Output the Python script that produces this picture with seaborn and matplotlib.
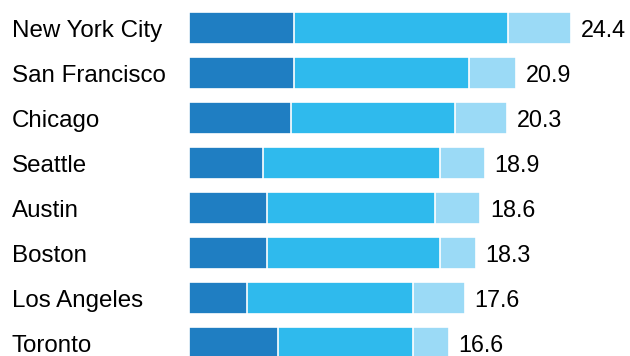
import pandas as pd
import matplotlib.pyplot as plt
import seaborn as sns

# --- データ ---
cities = ["New York City", "San Francisco", "Chicago", "Seattle",
          "Austin", "Boston", "Los Angeles", "Toronto"]
seg1 = [6.7, 6.7, 6.5, 4.7, 5.0, 5.0, 3.7, 5.7]
seg2 = [13.7, 11.2, 10.5, 11.3, 10.7, 11.0, 10.6, 8.6]
seg3 = [4.0, 3.0, 3.3, 2.9, 2.9, 2.3, 3.3, 2.3]
totals = [24.4, 20.9, 20.3, 18.9, 18.6, 18.3, 17.6, 16.6]

colors = ["#1f7ec2", "#2fbaed", "#9bdaf6"]

sns.set_style("white")
plt.rcParams['font.family'] = ['Liberation Sans', 'DejaVu Sans']

df = pd.DataFrame({"city": cities, "s1": seg1, "s2": seg2, "s3": seg3})
df["c1"] = df["s1"]
df["c2"] = df["s1"] + df["s2"]
df["c3"] = df["s1"] + df["s2"] + df["s3"]

fig = plt.figure(figsize=(6.3, 3.56), dpi=100)
ax = fig.add_axes([189 / 630, 0, 441 / 630, 1])

# 後ろから順に累積値を重ねて積み上げ棒にする
for col, c in zip(["c3", "c2", "c1"], colors[::-1]):
    sns.barplot(data=df, y="city", x=col, color=c, orient="h", width=0.69,
                edgecolor="white", linewidth=1.2, saturation=1, ax=ax)

# ラベル（ベースラインを棒の中心から少し下げる）
base_off = 8.6 / 45
for i, t in enumerate(totals):
    ax.text(t + 0.62, i + base_off, f"{t}", va="baseline", ha="left",
            fontsize=16.8, color="black")

for i, name in enumerate(cities):
    ax.text(-177 / 15.66, i + base_off, name, va="baseline", ha="left",
            fontsize=17.4, color="black")

ax.set_xlim(0, 441 / 15.66)
ax.set_ylim(356 / 45 - 28 / 45, -28 / 45)
ax.set_xlabel("")
ax.set_ylabel("")
ax.set_xticks([])
ax.set_yticks([])
sns.despine(ax=ax, left=True, bottom=True)

plt.savefig("out.png", dpi=100)
plt.close()
